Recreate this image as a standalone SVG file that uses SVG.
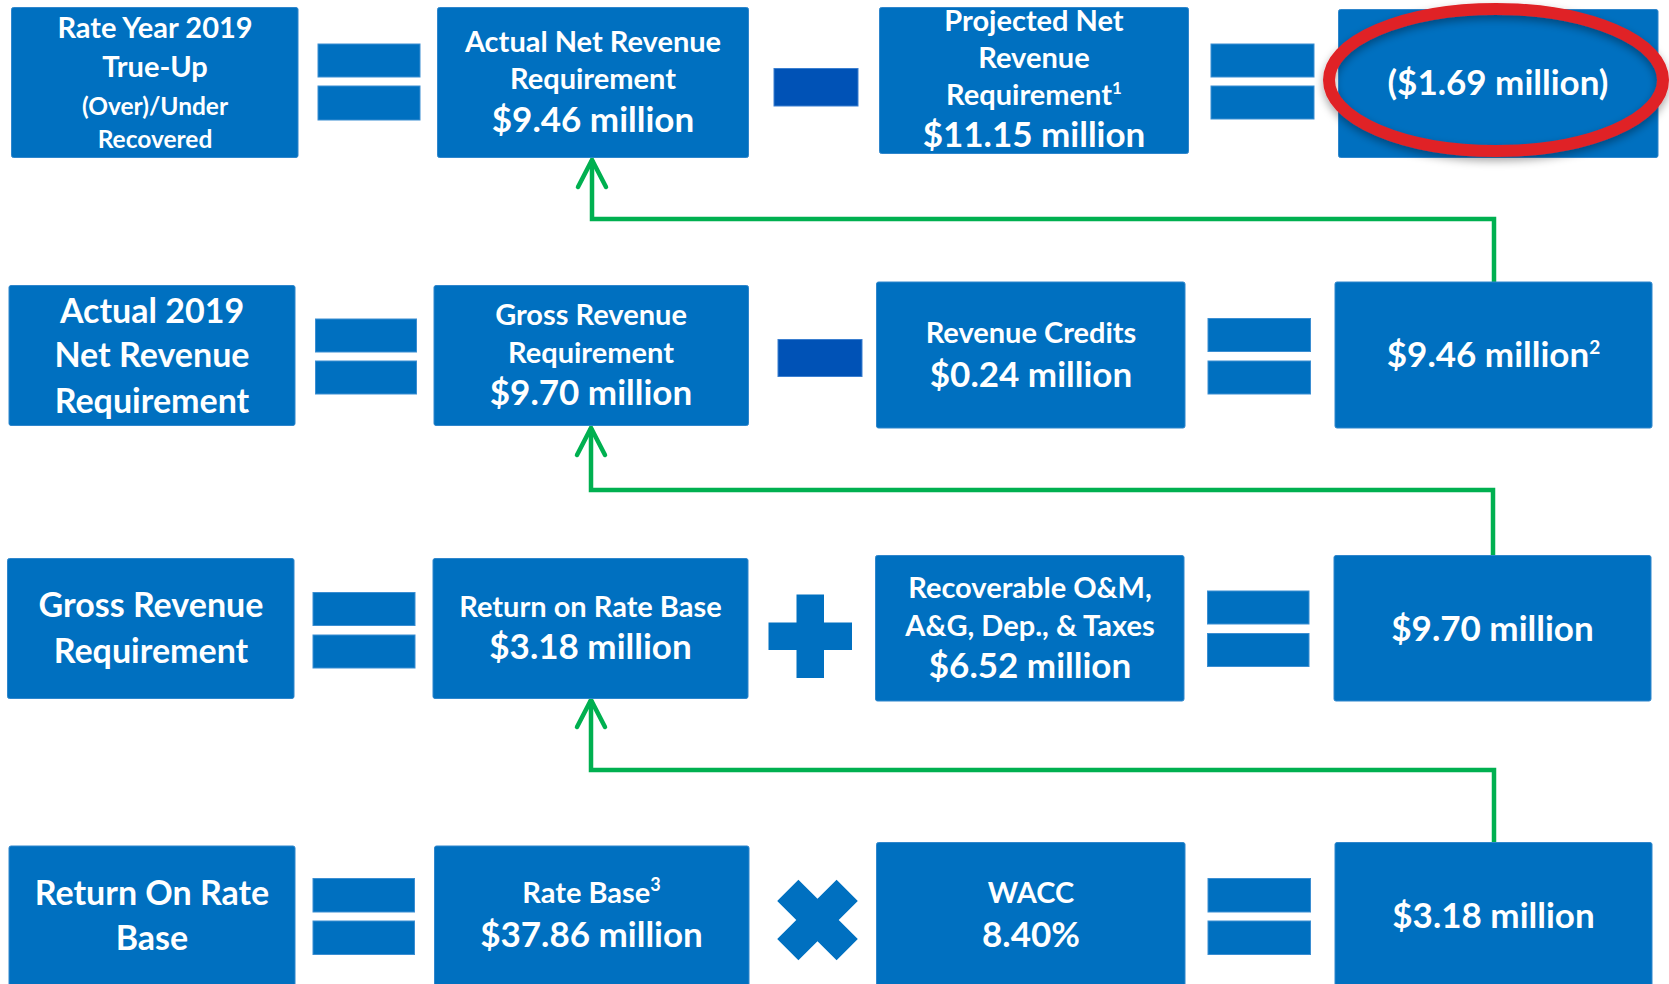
<svg xmlns="http://www.w3.org/2000/svg" width="1669" height="984" viewBox="0 0 1669 984">
<style>
.box{fill:#0070C0;stroke:#2f86cc;stroke-width:1}
.bar{fill:#0070C0;stroke:#3b8ed2;stroke-width:1}
.minus{fill:#0052B6;stroke:#3b7fd0;stroke-width:1}
.t{font-family:Lato,"Open Sans",sans-serif;font-weight:bold;fill:#ffffff;text-anchor:middle}
.m{font-size:29px}
.s{font-size:24.5px}
.l{font-size:34px}
.v{font-size:35px}
.conn{fill:none;stroke:#00B050;stroke-width:4.5;stroke-linejoin:miter}
</style>
<defs>
<marker id="arr" markerUnits="userSpaceOnUse" orient="auto" markerWidth="40" markerHeight="40" refX="0" refY="0" viewBox="-30 -20 40 40" overflow="visible">
<path d="M-27,-14 L0,0 L-27,14" fill="none" stroke="#00B050" stroke-width="4.5" stroke-linecap="round" stroke-linejoin="miter"/>
</marker>
<filter id="sh" x="-20%" y="-20%" width="140%" height="150%">
<feDropShadow dx="0" dy="4" stdDeviation="4" flood-color="#000" flood-opacity="0.35"/>
</filter>
</defs>
<rect width="1669" height="984" fill="#ffffff"/>

<g id="connectors">
<path class="conn" d="M1494,282 V219 H592 V160" marker-end="url(#arr)"/>
<path class="conn" d="M1493,556 V490 H591 V428" marker-end="url(#arr)"/>
<path class="conn" d="M1494,842 V770 H591 V700" marker-end="url(#arr)"/>
</g>

<g id="operators">
<rect class="bar" x="318" y="44" width="102" height="33"/>
<rect class="bar" x="318" y="86" width="102" height="34"/>
<rect class="minus" x="774" y="68.5" width="84" height="37.5"/>
<rect class="bar" x="1211" y="44" width="103" height="33"/>
<rect class="bar" x="1211" y="86" width="103" height="33"/>

<rect class="bar" x="315.5" y="319" width="101" height="33"/>
<rect class="bar" x="315.5" y="361" width="101" height="33"/>
<rect class="minus" x="778" y="339.5" width="84" height="37"/>
<rect class="bar" x="1208" y="318.5" width="102.5" height="33"/>
<rect class="bar" x="1208" y="361" width="102.5" height="33"/>

<rect class="bar" x="313" y="592.5" width="102" height="33"/>
<rect class="bar" x="313" y="635" width="102" height="33"/>
<path d="M796.5,594.5 H824 V622.5 H852 V650 H824 V678 H796.5 V650 H768.5 V622.5 H796.5 Z" fill="#0070C0"/>
<rect class="bar" x="1207.5" y="591" width="101.5" height="33"/>
<rect class="bar" x="1207.5" y="633.5" width="101.5" height="33"/>

<rect class="bar" x="313" y="878.5" width="101.5" height="33.5"/>
<rect class="bar" x="313" y="921" width="101.5" height="33.5"/>
<path d="M802.5,-42 H832.5 V-15 H859.5 V15 H832.5 V42 H802.5 V15 H775.5 V-15 H802.5 Z" fill="#0070C0" transform="translate(817.5,920) rotate(45) translate(-817.5,0)"/>
<rect class="bar" x="1208" y="878.5" width="102.5" height="33.5"/>
<rect class="bar" x="1208" y="921" width="102.5" height="33.5"/>
</g>

<g id="n-trueup">
<rect class="box" x="11.5" y="7.5" width="286.5" height="150" rx="2"/>
<text class="t m" x="155" y="38">Rate Year 2019</text>
<text class="t m" x="155" y="77">True-Up</text>
<text class="t s" x="155" y="115">(Over)/Under</text>
<text class="t s" x="155" y="148">Recovered</text>
</g>
<g id="n-actualnet">
<rect class="box" x="437.5" y="7.5" width="311" height="150" rx="2"/>
<text class="t m" x="593" y="52">Actual Net Revenue</text>
<text class="t m" x="593" y="89">Requirement</text>
<text class="t v" x="593" y="131.5">$9.46 million</text>
</g>
<g id="n-projected">
<rect class="box" x="879.5" y="7.5" width="309" height="146" rx="2"/>
<text class="t m" x="1034" y="31">Projected Net</text>
<text class="t m" x="1034" y="68">Revenue</text>
<text class="t m" x="1034" y="105">Requirement<tspan font-size="17" dy="-11">1</tspan></text>
<text class="t v" x="1034" y="146.5">$11.15 million</text>
</g>
<g id="n-result">
<rect class="box" x="1338.5" y="9.5" width="319.5" height="148" rx="2"/>
<text class="t" font-size="35" x="1498" y="95">($1.69 million)</text>
<ellipse cx="1496" cy="80" rx="167" ry="71" fill="none" stroke="#E02226" stroke-width="12" filter="url(#sh)"/>
</g>

<g id="n-actual2019">
<rect class="box" x="9" y="285.5" width="286" height="140" rx="2"/>
<text class="t l" x="152" y="322.5">Actual 2019</text>
<text class="t l" x="152" y="367">Net Revenue</text>
<text class="t l" x="152" y="412.5">Requirement</text>
</g>
<g id="n-gross1">
<rect class="box" x="434" y="285.5" width="314.5" height="140" rx="2"/>
<text class="t m" x="591" y="325">Gross Revenue</text>
<text class="t m" x="591" y="362.5">Requirement</text>
<text class="t v" x="591" y="405">$9.70 million</text>
</g>
<g id="n-credits">
<rect class="box" x="876.5" y="282" width="308.5" height="146" rx="2"/>
<text class="t m" x="1031" y="343">Revenue Credits</text>
<text class="t v" x="1031" y="386.5">$0.24 million</text>
</g>
<g id="n-946">
<rect class="box" x="1335" y="282" width="317" height="146" rx="2"/>
<text class="t v" x="1493.5" y="367">$9.46 million<tspan font-size="19" dy="-13">2</tspan></text>
</g>

<g id="n-gross2">
<rect class="box" x="7.5" y="558.5" width="286.5" height="140" rx="2"/>
<text class="t l" x="151" y="616.5">Gross Revenue</text>
<text class="t l" x="151" y="662.5">Requirement</text>
</g>
<g id="n-return1">
<rect class="box" x="433" y="558.5" width="315" height="140" rx="2"/>
<text class="t m" x="590.5" y="616.5">Return on Rate Base</text>
<text class="t v" x="590.5" y="659">$3.18 million</text>
</g>
<g id="n-om">
<rect class="box" x="875.5" y="555.5" width="308.5" height="145.5" rx="2"/>
<text class="t m" x="1030" y="597.5">Recoverable O&amp;M,</text>
<text class="t m" x="1030" y="635.5">A&amp;G, Dep., &amp; Taxes</text>
<text class="t v" x="1030" y="678">$6.52 million</text>
</g>
<g id="n-970">
<rect class="box" x="1334" y="555.5" width="317" height="145.5" rx="2"/>
<text class="t v" x="1492.5" y="640.5">$9.70 million</text>
</g>

<g id="n-return2">
<rect class="box" x="9" y="846" width="286" height="150" rx="2"/>
<text class="t l" x="152" y="905">Return On Rate</text>
<text class="t l" x="152" y="950">Base</text>
</g>
<g id="n-ratebase">
<rect class="box" x="434.5" y="846" width="314.5" height="150" rx="2"/>
<text class="t m" x="591.5" y="903">Rate Base<tspan font-size="18" dy="-12">3</tspan></text>
<text class="t v" x="591.5" y="946.5">$37.86 million</text>
</g>
<g id="n-wacc">
<rect class="box" x="876.5" y="842.5" width="308.5" height="150" rx="2"/>
<text class="t m" x="1031" y="903">WACC</text>
<text class="t v" x="1031" y="946.5">8.40%</text>
</g>
<g id="n-318">
<rect class="box" x="1335" y="842.5" width="317" height="150" rx="2"/>
<text class="t v" x="1493.5" y="928">$3.18 million</text>
</g>
</svg>
